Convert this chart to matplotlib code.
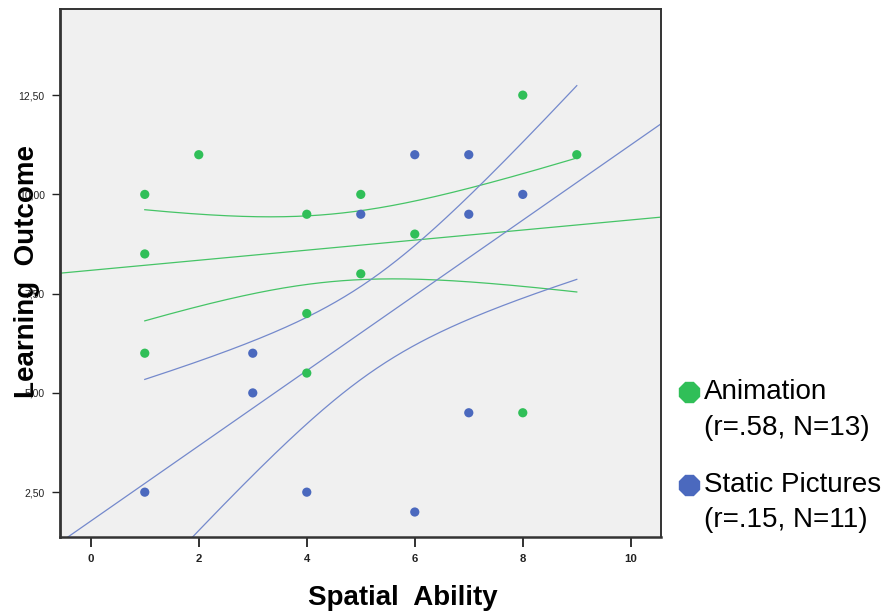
import matplotlib

matplotlib.use("Agg")
import matplotlib.pyplot as plt
from matplotlib.lines import Line2D
from matplotlib.ticker import FuncFormatter
import numpy as np

# scatter data
ANIM_X = [1, 2, 1, 1, 4, 5, 6, 5, 4, 4, 8, 9, 8]
ANIM_Y = [10.0, 11.0, 8.5, 6.0, 9.5, 10.0, 9.0, 8.0, 7.0, 5.5, 12.5, 11.0, 4.5]
STATIC_X = [6, 7, 8, 7, 5, 3, 3, 1, 4, 6, 7]
STATIC_Y = [11.0, 11.0, 10.0, 9.5, 9.5, 6.0, 5.0, 2.5, 2.5, 2.0, 4.5]

LEGEND_LABELS = [
    ("Animation", "(r=.58, N=13)"),
    ("Static Pictures", "(r=.15, N=11)"),
]
X_TICKS = [0, 2, 4, 6, 8, 10]
Y_TICKS = [2.5, 5.0, 7.5, 10.0, 12.5]
XLIM = (-0.57, 10.56)
YLIM = (1.37, 14.67)

GREEN = "#30bf58"
BLUE = "#4b69be"
GREEN_LINE = "#45c466"
BLUE_LINE = "#7489cc"
PANEL = "#f0f0f0"
BAND_T = 1.25  # multiplier of the fit's standard error used for the bands


def fit_with_band(xs, ys, grid):
    x = np.asarray(xs, dtype=float)
    y = np.asarray(ys, dtype=float)
    slope, intercept = np.polyfit(x, y, 1)
    resid = y - (slope * x + intercept)
    s = np.sqrt(np.sum(resid ** 2) / (x.size - 2))
    sxx = np.sum((x - x.mean()) ** 2)
    fit = slope * grid + intercept
    se = s * np.sqrt(1.0 / x.size + (grid - x.mean()) ** 2 / sxx)
    return slope, intercept, fit - BAND_T * se, fit + BAND_T * se


def main():
    plt.rcParams["font.family"] = ["Liberation Sans", "DejaVu Sans"]
    fig = plt.figure(figsize=(8.94, 6.12), dpi=100)
    ax = fig.add_axes([0.0671, 0.1225, 0.6723, 0.8628])
    ax.set_facecolor(PANEL)

    all_x = ANIM_X + STATIC_X
    full = np.linspace(XLIM[0], XLIM[1], 200)
    band_grid = np.linspace(min(all_x), max(all_x), 200)

    for xs, ys, dot, line in [
        (ANIM_X, ANIM_Y, GREEN, GREEN_LINE),
        (STATIC_X, STATIC_Y, BLUE, BLUE_LINE),
    ]:
        slope, intercept, lo, hi = fit_with_band(xs, ys, band_grid)
        ax.plot(full, slope * full + intercept, color=line, lw=0.9, zorder=2)
        ax.plot(band_grid, lo, color=line, lw=0.9, zorder=2)
        ax.plot(band_grid, hi, color=line, lw=0.9, zorder=2)
        ax.scatter(xs, ys, s=44, color=dot, edgecolors="none", zorder=3)

    ax.set_xlim(*XLIM)
    ax.set_ylim(*YLIM)
    ax.set_xticks(X_TICKS)
    ax.set_yticks(Y_TICKS)
    ax.yaxis.set_major_formatter(FuncFormatter(lambda v, _p: f"{v:.2f}".replace(".", ",")))
    ax.tick_params(axis="x", direction="out", length=7, width=1.3, pad=5, labelsize=8.2, colors="#222222")
    ax.tick_params(axis="y", direction="out", length=6, width=1.0, pad=5, labelsize=7.5, colors="#222222")
    for lab in ax.get_xticklabels():
        lab.set_fontweight("bold")
    for spine in ax.spines.values():
        spine.set_color("#333333")
        spine.set_linewidth(1.4)
    ax.spines["left"].set_linewidth(2.0)
    ax.spines["bottom"].set_linewidth(1.8)

    fig.text(403 / 894, 1 - 605 / 612, "Spatial  Ability", ha="center", va="baseline",
             fontsize=20, fontweight="bold")
    fig.text(27 / 894, 1 - 271 / 612, "Learning  Outcome", ha="center", va="center",
             rotation=90, fontsize=20, fontweight="bold")

    # legend drawn by hand: the marker sits on the first line of each entry
    marker_y = [1 - 392 / 612, 1 - 485 / 612]
    base_y = [(1 - 399 / 612, 1 - 435 / 612), (1 - 492 / 612, 1 - 527 / 612)]
    for (first, second), color, my, (y1, y2) in zip(LEGEND_LABELS, [GREEN, BLUE], marker_y, base_y):
        fig.add_artist(Line2D([689 / 894], [my], marker="8", markersize=15, color=color,
                              markeredgecolor=color, transform=fig.transFigure))
        fig.text(704 / 894, y1, first, fontsize=20, va="baseline", ha="left")
        fig.text(704 / 894, y2, second, fontsize=20, va="baseline", ha="left")

    fig.savefig("out.png", dpi=100, facecolor="white")
    plt.close(fig)


if __name__ == "__main__":
    main()
